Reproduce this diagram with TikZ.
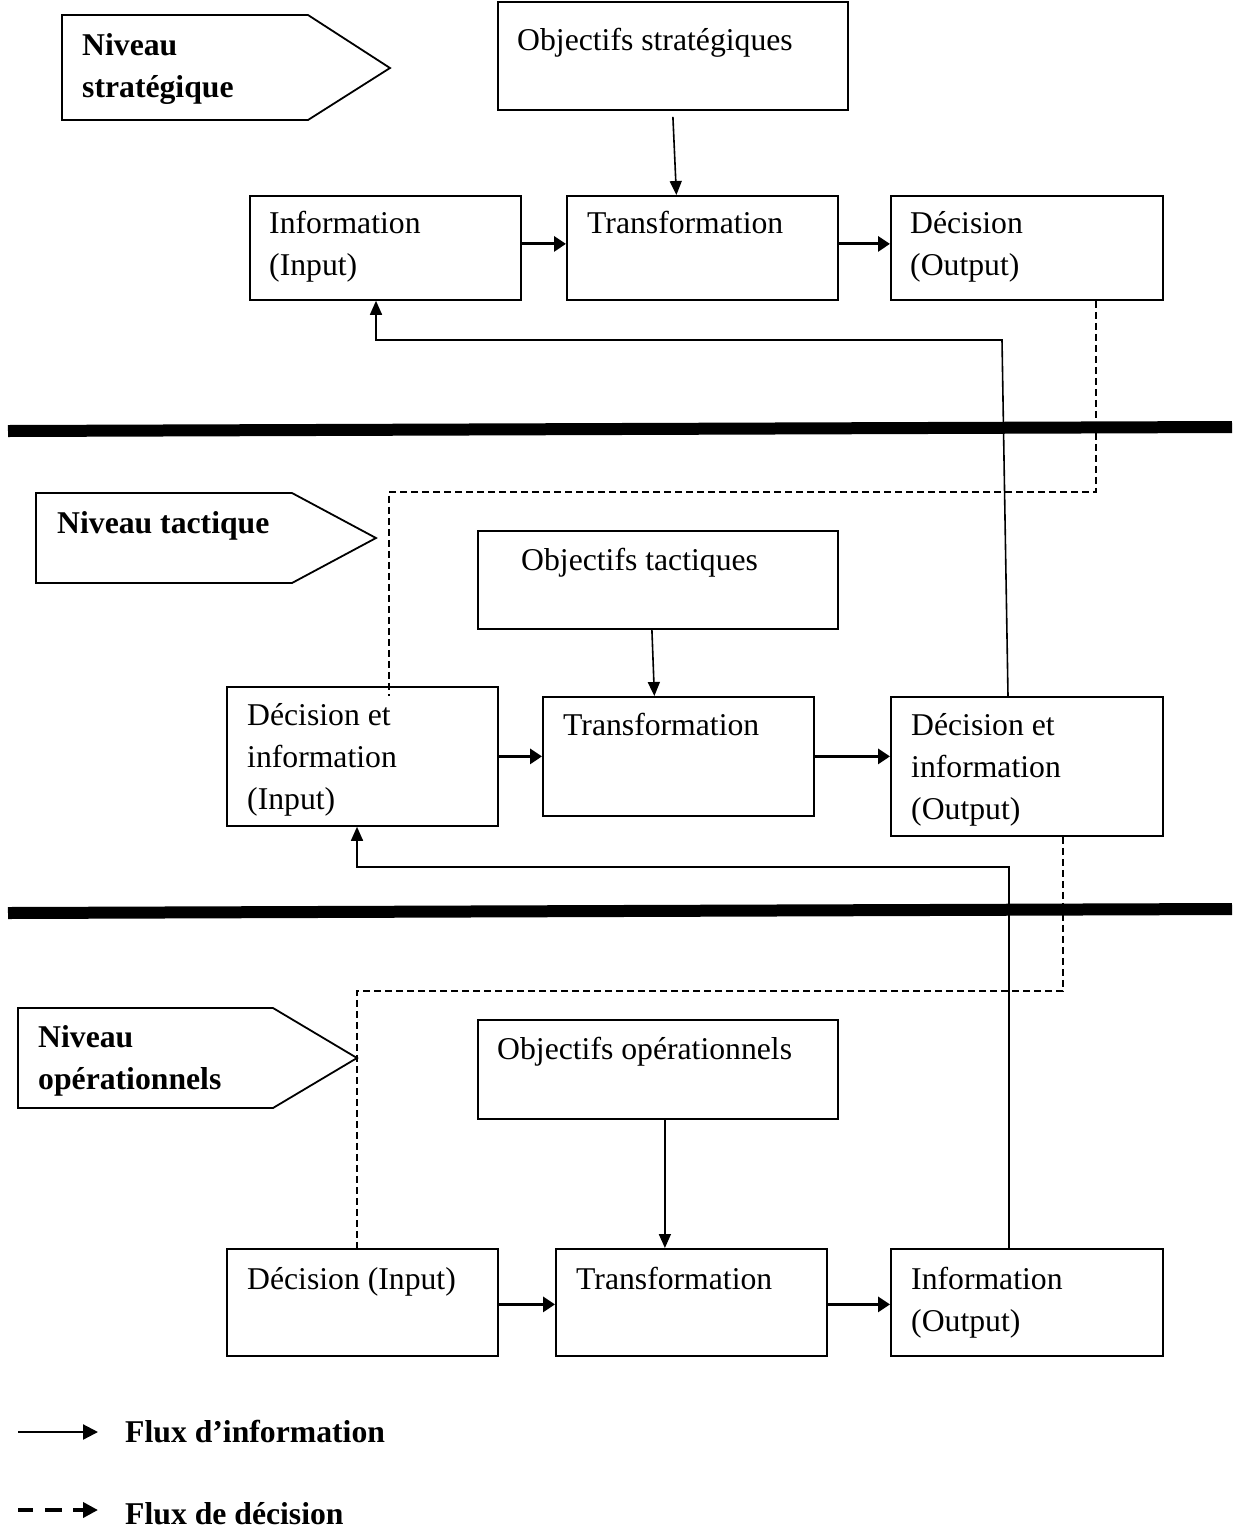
\documentclass[tikz,border=0pt]{standalone}
\usepackage{fontspec}
\setmainfont{Liberation Serif}
\usetikzlibrary{arrows.meta,calc}
\begin{document}
\begin{tikzpicture}[x=1pt,y=-1pt,
  box/.style={draw,line width=1.8pt,rectangle,inner sep=0pt,anchor=north west},
  % text nodes are placed by the baseline of their last line
  txt/.style={anchor=base west,inner sep=0pt,align=left,font=\fontsize{31.7}{42}\selectfont},
  lvl/.style={anchor=base west,inner sep=0pt,align=left,font=\fontsize{31.7}{42}\selectfont\bfseries},
  flow/.style={line width=3pt,-{Triangle[length=12pt,width=15pt]}},
  info/.style={line width=1.6pt,-{Triangle[length=14pt,width=12pt]}},
  decis/.style={line width=1.3pt,dash pattern=on 7pt off 4pt},
  sep/.style={line width=12pt},
  banner/.style={draw,line width=1.8pt,line join=miter},
  legsolid/.style={line width=2.2pt,-{Triangle[length=15pt,width=15pt]}},
  legdash/.style={line width=4pt,dash pattern=on 15pt off 12pt on 17pt off 11pt on 60pt off 0pt,-{Triangle[length=15pt,width=15pt]}}]

\useasboundingbox (0,0) rectangle (1232,1529);

% ---------- strategic level ----------
\draw[banner] (62,15) -- (308,15) -- (390,68) -- (308,120) -- (62,120) -- cycle;
\node[lvl] (nstrat) at (82,97) {Niveau\\stratégique};

\node[box,minimum width=350pt,minimum height=108pt] (os) at (497,1) {};
\node[txt] (os-t) at ([shift={(20,49)}]os.north west) {Objectifs stratégiques};

\node[box,minimum width=271pt,minimum height=104pt] (sin) at (249,195) {};
\node[box,minimum width=271pt,minimum height=104pt] (str) at (566,195) {};
\node[box,minimum width=272pt,minimum height=104pt] (sout) at (890,195) {};
\node[txt] (sin-t) at ([shift={(20,80)}]sin.north west) {Information\\(Input)};
\node[txt] (str-t) at ([shift={(21,38)}]str.north west) {Transformation};
\node[txt] (sout-t) at ([shift={(20,80)}]sout.north west) {Décision\\(Output)};

\draw[info] ([yshift=-6pt]os.south) -- ([xshift=-26pt]str.north);
\draw[flow] ([yshift=4pt]sin.east) -- ([yshift=4pt]str.west);
\draw[flow] ([yshift=4pt]str.east) -- ([yshift=4pt]sout.west);

% ---------- separators ----------
\draw[sep] (8,431) -- (1232,427);
\draw[sep] (8,913) -- (1232,909);

% ---------- tactical level ----------
\draw[banner] (36,493) -- (292,493) -- (376,538) -- (292,583) -- (36,583) -- cycle;
\node[lvl] (ntact) at (57,533) {Niveau tactique};

\node[box,minimum width=360pt,minimum height=98pt] (ot) at (477,530) {};
\node[txt] (ot-t) at ([shift={(44,40)}]ot.north west) {Objectifs tactiques};

\node[box,minimum width=271pt,minimum height=139pt] (tin) at (226,686) {};
\node[box,minimum width=271pt,minimum height=119pt] (ttr) at (542,696) {};
\node[box,minimum width=272pt,minimum height=139pt] (tout) at (890,696) {};
\node[txt] (tin-t) at ([shift={(21,123)}]tin.north west) {Décision et\\information\\(Input)};
\node[txt] (ttr-t) at ([shift={(21,39)}]ttr.north west) {Transformation};
\node[txt] (tout-t) at ([shift={(21,123)}]tout.north west) {Décision et\\information\\(Output)};

\draw[info] ([xshift=-6pt]ot.south) -- ([xshift=-24pt]ttr.north);
\draw[flow] (tin.east) -- (ttr.west);
\draw[flow] (ttr.east) -- (ttr.east -| tout.west);

% ---------- operational level ----------
\draw[banner] (18,1008) -- (273,1008) -- (357,1058) -- (273,1108) -- (18,1108) -- cycle;
\node[lvl] (nop) at (38,1089) {Niveau\\opérationnels};

\node[box,minimum width=360pt,minimum height=99pt] (oo) at (477,1019) {};
\node[txt] (oo-t) at ([shift={(20,40)}]oo.north west) {Objectifs opérationnels};

\node[box,minimum width=271pt,minimum height=107pt] (oin) at (226,1248) {};
\node[box,minimum width=271pt,minimum height=107pt] (otr) at (555,1248) {};
\node[box,minimum width=272pt,minimum height=107pt] (oout) at (890,1248) {};
\node[txt] (oin-t) at ([shift={(21,41)}]oin.north west) {Décision (Input)};
\node[txt] (otr-t) at ([shift={(21,41)}]otr.north west) {Transformation};
\node[txt] (oout-t) at ([shift={(21,83)}]oout.north west) {Information\\(Output)};

\draw[info] ([xshift=7pt]oo.south) -- ([xshift=7pt]oo.south |- otr.north);
\draw[flow] ([yshift=-2pt]oin.east) -- ([yshift=-2pt]otr.west);
\draw[flow] ([yshift=-2pt]otr.east) -- ([yshift=-2pt]oout.west);

% ---------- feedback of information (upwards) ----------
\coordinate (fb1) at (1002,340);
\coordinate (fb2) at (1009,867);
\draw[info] ([xshift=118pt]tout.north west) -- (fb1) -| ([xshift=127pt]sin.south west);
\draw[info] ([xshift=119pt]oout.north west) -- (fb2) -| ([xshift=131pt]tin.south west);

% ---------- decisions passed downwards ----------
\coordinate (dc1) at (1096,492);
\coordinate (dc2) at (1063,991);
\draw[decis] ([xshift=206pt]sout.south west) -- (dc1) -| ([shift={(163,10)}]tin.north west);
\draw[decis] ([xshift=173pt]tout.south west) -- (dc2) -| ([xshift=131pt]oin.north west);

% ---------- legend ----------
\coordinate (la1) at (18,1432);
\coordinate (la2) at (98,1432);
\coordinate (lb1) at (18,1510);
\coordinate (lb2) at (98,1510);
\draw[legsolid] (la1) -- (la2);
\draw[legdash] (lb1) -- (lb2);
\node[lvl] (lega) at (125,1442) {Flux d’information};
\node[lvl] (legb) at (125,1524) {Flux de décision};

\end{tikzpicture}
\end{document}
